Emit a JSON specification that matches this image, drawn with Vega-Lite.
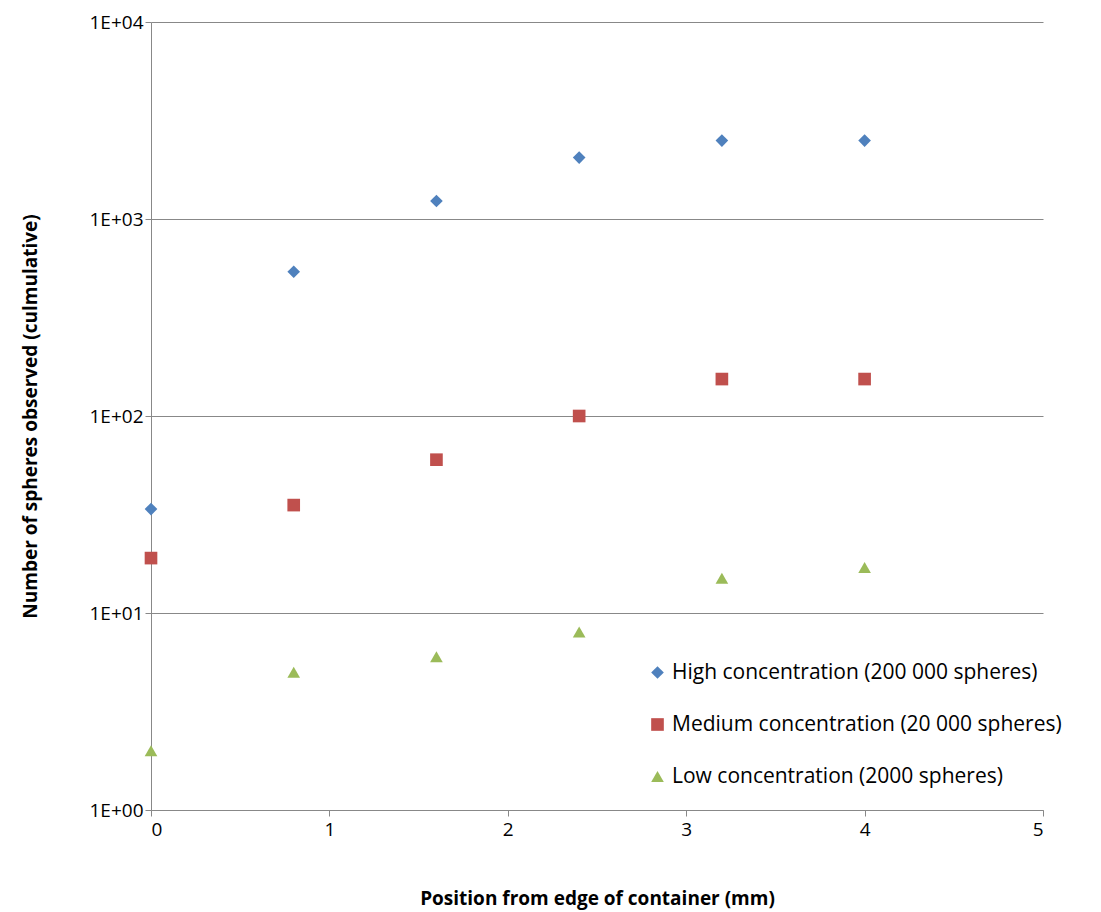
{
"$schema":"https://vega.github.io/schema/vega-lite/v6.json",
"autosize":"none","width":892,"height":788,
"padding":{"left":151,"top":22,"right":58,"bottom":102},
"config":{"font":"Open Sans","view":{"stroke":null}},
"data":{"values":[
{"x":0,"y":33.7,"s":"High concentration (200 000 spheres)"},
{"x":0.8,"y":540,"s":"High concentration (200 000 spheres)"},
{"x":1.6,"y":1234,"s":"High concentration (200 000 spheres)"},
{"x":2.4,"y":2050,"s":"High concentration (200 000 spheres)"},
{"x":3.2,"y":2500,"s":"High concentration (200 000 spheres)"},
{"x":4.0,"y":2500,"s":"High concentration (200 000 spheres)"},
{"x":0,"y":19,"s":"Medium concentration (20 000 spheres)"},
{"x":0.8,"y":35.3,"s":"Medium concentration (20 000 spheres)"},
{"x":1.6,"y":60,"s":"Medium concentration (20 000 spheres)"},
{"x":2.4,"y":100,"s":"Medium concentration (20 000 spheres)"},
{"x":3.2,"y":154,"s":"Medium concentration (20 000 spheres)"},
{"x":4.0,"y":154,"s":"Medium concentration (20 000 spheres)"},
{"x":0,"y":2,"s":"Low concentration (2000 spheres)"},
{"x":0.8,"y":5,"s":"Low concentration (2000 spheres)"},
{"x":1.6,"y":6,"s":"Low concentration (2000 spheres)"},
{"x":2.4,"y":8,"s":"Low concentration (2000 spheres)"},
{"x":3.2,"y":15,"s":"Low concentration (2000 spheres)"},
{"x":4.0,"y":17,"s":"Low concentration (2000 spheres)"}
]},
"mark":{"type":"point","filled":true,"opacity":1,"size":160},
"encoding":{
"x":{"field":"x","type":"quantitative","scale":{"domain":[0,5]},
 "axis":{"title":"Position from edge of container (mm)","titleFontSize":19,"titleFontWeight":"bold","titlePadding":50,"labelFontSize":19,"labelColor":"#000","grid":false,"tickCount":5,"domainColor":"#888","tickColor":"#888","tickSize":6,"labelPadding":4}},
"y":{"field":"y","type":"quantitative","scale":{"type":"log","domain":[1,10000]},
 "axis":{"title":"Number of spheres observed (culmulative)","titleFontSize":19,"titleFontWeight":"bold","titlePadding":48,"labelFontSize":19,"labelColor":"#000","values":[1,10,100,1000,10000],"labelExpr":"'1E+0'+round(log(datum.value)/LN10)","gridColor":"#888","domainColor":"#888","tickColor":"#888","tickSize":6}},
"color":{"field":"s","type":"nominal","sort":null,
 "scale":{"domain":["High concentration (200 000 spheres)","Medium concentration (20 000 spheres)","Low concentration (2000 spheres)"],"range":["#4F81BD","#C0504D","#9BBB59"]},
 "legend":{"title":null,"orient":"none","legendX":496,"legendY":640,"labelFontSize":21,"labelColor":"#000","labelLimit":500,"rowPadding":30,"symbolSize":160}},
"shape":{"field":"s","type":"nominal","sort":null,
 "scale":{"domain":["High concentration (200 000 spheres)","Medium concentration (20 000 spheres)","Low concentration (2000 spheres)"],"range":["diamond","square","triangle-up"]},"legend":null}
}
}
